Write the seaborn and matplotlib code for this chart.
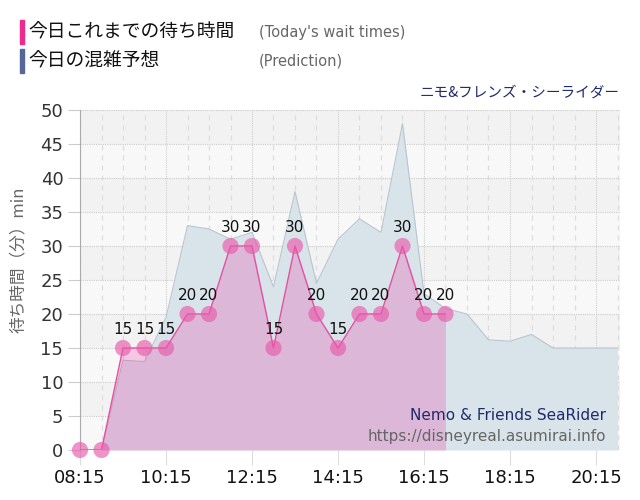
import numpy as np
import pandas as pd
import matplotlib
matplotlib.use("Agg")
import matplotlib.pyplot as plt
import seaborn as sns

# ---- data ----
actual_times = ["08:15", "08:45", "09:15", "09:45", "10:15", "10:45", "11:15", "11:45", "12:15",
                "12:45", "13:15", "13:45", "14:15", "14:45", "15:15", "15:45", "16:15", "16:45"]
actual_wait = [0, 0, 15, 15, 15, 20, 20, 30, 30, 15, 30, 20, 15, 20, 20, 30, 20, 20]

pred_times = ["08:15", "08:45", "09:15", "09:45", "10:15", "10:45", "11:15", "11:45", "12:15",
              "12:45", "13:15", "13:45", "14:15", "14:45", "15:15", "15:45", "16:15", "16:45",
              "17:15", "17:45", "18:15", "18:45", "19:15", "19:45", "20:15", "20:45"]
pred_wait = [0, 0, 13.2, 13, 19.5, 33, 32.5, 31, 32, 24, 38, 24.5, 31, 34, 32, 48, 23, 20.8,
             20, 16.2, 16, 17, 15, 15, 15, 15]

xtick_labels = ["08:15", "10:15", "12:15", "14:15", "16:15", "18:15", "20:15"]


def to_h(t):
    h, m = t.split(":")
    return int(h) + int(m) / 60


df_a = pd.DataFrame({"t": [to_h(t) for t in actual_times], "w": actual_wait})
df_p = pd.DataFrame({"t": [to_h(t) for t in pred_times], "w": pred_wait})

sns.set_theme(style="white")
plt.rcParams["font.family"] = ["Noto Sans CJK JP", "DejaVu Sans"]

fig = plt.figure(figsize=(6.4, 5.0), dpi=100)
ax = fig.add_axes([80 / 640, 0.10, 540 / 640, 0.68])

xmin, xmax = 8.25, 8.25 + 540 / 43
ax.set_xlim(xmin, xmax)
ax.set_ylim(0, 50)

# background bands
for i, y0 in enumerate(range(0, 50, 5)):
    ax.axhspan(y0, y0 + 5, color="#f2f2f2" if (i % 2 == 1) else "#f8f8f8", zorder=0, lw=0)

# grid
for yy in range(5, 51, 5):
    ax.axhline(yy, color="#cccccc", lw=0.8, ls=(0, (1, 1)), zorder=0.5)
for i, xx in enumerate(np.arange(8.25, 20.8, 0.5)):
    if i % 4 == 0:
        ax.axvline(xx, color="#cfcfcf", lw=0.8, ls=(0, (1, 1)), zorder=0.5)
    else:
        ax.axvline(xx, color="#dddddd", lw=0.9, ls=(0, (4, 4)), zorder=0.5)
ax.axvline(xmax - 0.01, color="#cfcfcf", lw=0.8, ls=(0, (1, 1)), zorder=0.5)

# prediction area
ax.fill_between(df_p["t"], df_p["w"], 0, color="#d9e3ea", lw=0, zorder=1)
sns.lineplot(data=df_p, x="t", y="w", ax=ax, color="#b8c5d0", lw=0.8, zorder=1.5)

# actual area
ax.fill_between(df_a["t"], df_a["w"], 0, color="#e743a4", alpha=0.27, lw=0, zorder=2)
sns.lineplot(data=df_a, x="t", y="w", ax=ax, color="#e2509f", lw=1.0, zorder=3)
sns.scatterplot(data=df_a, x="t", y="w", ax=ax, color="#e85aab", alpha=0.65, s=135,
                edgecolor="none", zorder=4, clip_on=False)

for t, w in zip(df_a["t"], df_a["w"]):
    if w > 0:
        ax.annotate(str(w), (t, w), xytext=(0, 8), textcoords="offset points",
                    ha="center", va="bottom", fontsize=11, color="#111111",
                    family=["DejaVu Sans"], zorder=5)

# axes styling
for s in ["top", "right", "bottom"]:
    ax.spines[s].set_visible(False)
ax.spines["left"].set_color("#aaaaaa")
ax.spines["left"].set_linewidth(0.8)
ax.axhline(0, color="#cccccc", lw=0.8, ls=(0, (1, 1)), zorder=0.6)

ax.set_yticks(range(0, 51, 5))
ax.set_yticklabels([str(v) for v in range(0, 51, 5)], fontsize=13, color="#333333",
                   family=["DejaVu Sans"])
ax.set_xticks([to_h(t) for t in xtick_labels])
ax.set_xticklabels(xtick_labels, fontsize=13, color="#111111", family=["DejaVu Sans"])
ax.tick_params(axis="y", which="both", left=True, length=9, width=0.8, color="#cccccc", pad=3)
ax.tick_params(axis="x", which="both", bottom=True, length=11, width=0.8, color="#dddddd", pad=3)
ax.set_xlabel("")
ax.set_ylabel("待ち時間（分）min", fontsize=12, color="#666666", labelpad=4)
ax.yaxis.set_label_coords(-0.098, 0.56)

# watermark
ax.text(0.975, 0.10, "Nemo & Friends SeaRider", transform=ax.transAxes, ha="right",
        va="center", fontsize=11, color="#1f2a6e", family=["DejaVu Sans"], zorder=6)
ax.text(0.975, 0.04, "https://disneyreal.asumirai.info", transform=ax.transAxes, ha="right",
        va="center", fontsize=11, color="#666666", family=["DejaVu Sans"], zorder=6)

# header legend
fig.patches.append(plt.Rectangle((20 / 640, 1 - 44 / 500), 4 / 640, 24 / 500,
                                 transform=fig.transFigure, color="#ee2a8c"))
fig.patches.append(plt.Rectangle((20 / 640, 1 - 73 / 500), 4 / 640, 24 / 500,
                                 transform=fig.transFigure, color="#56689a"))
fig.text(28 / 640, 1 - 32 / 500, "今日これまでの待ち時間", fontsize=13.5, color="#111111",
         va="center", ha="left")
fig.text(28 / 640, 1 - 61 / 500, "今日の混雑予想", fontsize=13.5, color="#111111",
         va="center", ha="left")
fig.text(259 / 640, 1 - 32 / 500, "(Today's wait times)", fontsize=10.5, color="#666666",
         va="center", ha="left", family=["DejaVu Sans"])
fig.text(259 / 640, 1 - 61 / 500, "(Prediction)", fontsize=10.5, color="#666666",
         va="center", ha="left", family=["DejaVu Sans"])
fig.text(620 / 640, 1 - 93 / 500, "ニモ&フレンズ・シーライダー", fontsize=10.5, color="#1f2a6e",
         va="center", ha="right")

fig.savefig("out.png", dpi=100, facecolor="white")
